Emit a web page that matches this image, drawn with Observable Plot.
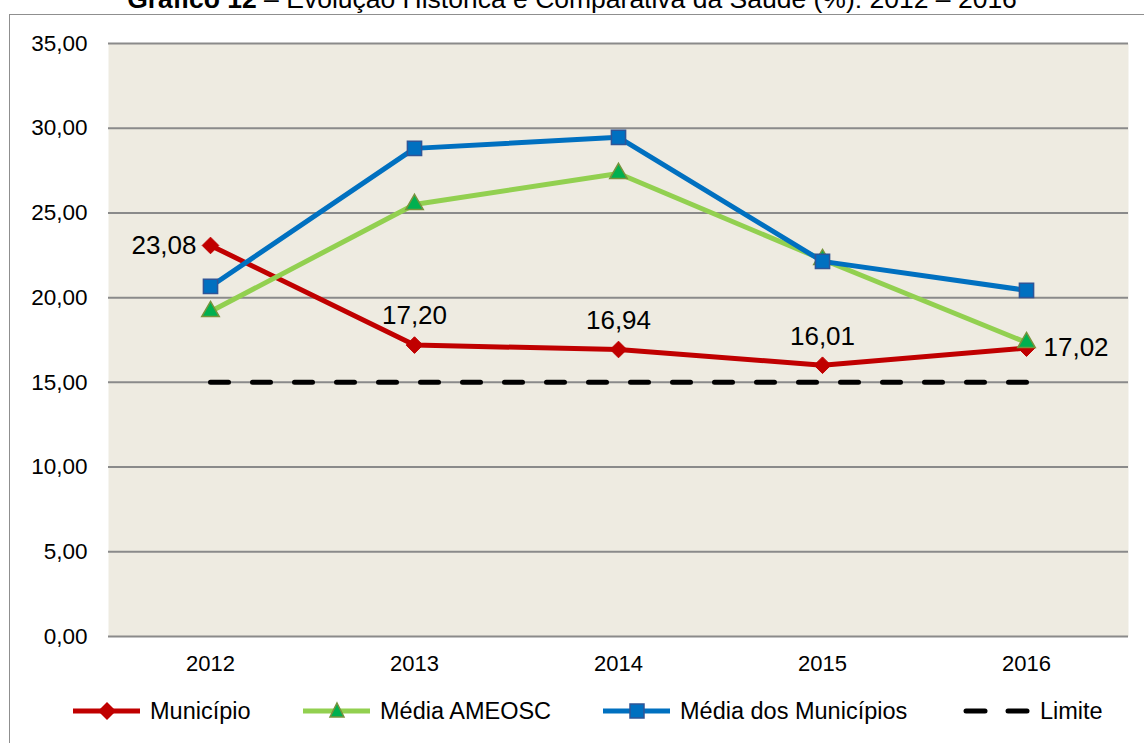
<!DOCTYPE html>
<html><head><meta charset="utf-8">
<script src="https://cdn.jsdelivr.net/npm/d3@7"></script>
<script src="https://cdn.jsdelivr.net/npm/@observablehq/plot@0.6"></script>
<style>
html,body{margin:0;padding:0;background:#fff;}
#wrap{position:relative;width:1144px;height:743px;overflow:hidden;font-family:"Liberation Sans",Arial,sans-serif;color:#000;}
#frame{position:absolute;left:9px;top:14px;width:1200px;height:800px;border-left:1.5px solid #8f8f8f;border-top:1.5px solid #8f8f8f;}
#title{position:absolute;left:0;width:1144px;top:-14px;text-align:center;font-size:26.5px;line-height:26px;white-space:nowrap;}
#chart{position:absolute;left:0;top:0;}
.leg{position:absolute;top:697px;height:28px;display:flex;align-items:center;font-size:23.5px;white-space:nowrap;}
.leg svg{margin-right:10px;}
</style></head><body>
<div id="wrap">
  <div id="frame"></div>
  <div id="title"><b>Gráfico 12</b> – Evolução Histórica e Comparativa da Saúde (%): 2012 – 2016</div>
  <div id="chart"></div>
  <div id="legend"></div>
</div>
<script>
const years = ["2012", "2013", "2014", "2015", "2016"];
const municipio = [23.08, 17.20, 16.94, 16.01, 17.02];
const mediaAmeosc = [19.18, 25.50, 27.33, 22.25, 17.35];
const mediaMunicipios = [20.66, 28.81, 29.46, 22.14, 20.43];
const limite = [15, 15, 15, 15, 15];
const yTicks = [0, 5, 10, 15, 20, 25, 30, 35];
const seriesNames = ["Município", "Média AMEOSC", "Média dos Municípios", "Limite"];
const colors = {red: "#C00000", green: "#92D050", blue: "#0070C0"};

const fmt = v => v.toFixed(2).replace(".", ",");
const rows = arr => years.map((y, i) => ({year: y, v: arr[i], i}));
const mun = rows(municipio), ame = rows(mediaAmeosc), med = rows(mediaMunicipios), lim = rows(limite);

const plot = Plot.plot({
  width: 1144, height: 680,
  marginLeft: 108, marginRight: 16, marginTop: 43, marginBottom: 44,
  x: {type: "point", domain: years, padding: 0.5, label: null},
  y: {domain: [0, 35], label: null},
  style: {fontFamily: "'Liberation Sans', Arial, sans-serif", color: "#000", background: "transparent", overflow: "visible"},
  marks: [
    Plot.frame({fill: "#EEEBE1", stroke: "none"}),
    Plot.gridY(yTicks, {stroke: "#8a8a8a", strokeOpacity: 1, strokeWidth: 2}),
    Plot.axisY({ticks: yTicks, tickSize: 0, tickPadding: 21, tickFormat: fmt, fontSize: 22.5, label: null}),
    Plot.axisX({tickSize: 0, tickPadding: 19, fontSize: 22, label: null}),
    Plot.line(lim, {x: "year", y: "v", stroke: "#000", strokeWidth: 5, strokeDasharray: "18,24", strokeLinecap: "round"}),
    Plot.line(mun, {x: "year", y: "v", stroke: colors.red, strokeWidth: 5}),
    Plot.dot(mun, {x: "year", y: "v", symbol: "diamond2", r: 7.5, fill: colors.red, stroke: colors.red, strokeWidth: 1}),
    Plot.line(ame, {x: "year", y: "v", stroke: colors.green, strokeWidth: 5}),
    Plot.dot(ame, {x: "year", y: "v", symbol: "triangle", r: 6.5, fill: "#00B050", stroke: "#77933C", strokeWidth: 1.5}),
    Plot.line(med, {x: "year", y: "v", stroke: colors.blue, strokeWidth: 5}),
    Plot.dot(med, {x: "year", y: "v", symbol: "square", r: 8, fill: colors.blue, stroke: "#2F5597", strokeWidth: 1.5}),
    Plot.text(mun.filter(d => d.i === 0), {x: "year", y: "v", text: d => fmt(d.v), textAnchor: "end", dx: -14, fontSize: 26, fill: "#000"}),
    Plot.text(mun.filter(d => d.i > 0 && d.i < years.length - 1), {x: "year", y: "v", text: d => fmt(d.v), dy: -29, fontSize: 26, fill: "#000"}),
    Plot.text(mun.filter(d => d.i === years.length - 1), {x: "year", y: "v", text: d => fmt(d.v), textAnchor: "start", dx: 17, fontSize: 26, fill: "#000"})
  ]
});
document.getElementById("chart").appendChild(plot);

// legend
const swatches = [
  `<line x1="0" x2="67" y1="14" y2="14" stroke="${colors.red}" stroke-width="5"/><polygon points="34,5 43,14 34,23 25,14" fill="${colors.red}"/>`,
  `<line x1="0" x2="67" y1="14" y2="14" stroke="${colors.green}" stroke-width="5"/><polygon points="34,6 41,20 27,20" fill="#00B050" stroke="#77933C" stroke-width="1.5"/>`,
  `<line x1="0" x2="67" y1="14" y2="14" stroke="${colors.blue}" stroke-width="5"/><rect x="27" y="7" width="14" height="14" fill="${colors.blue}" stroke="#2F5597" stroke-width="1.5"/>`,
  `<line x1="3" x2="22" y1="14" y2="14" stroke="#000" stroke-width="5" stroke-linecap="round"/><line x1="45" x2="64" y1="14" y2="14" stroke="#000" stroke-width="5" stroke-linecap="round"/>`
];
const legLefts = [73, 303, 603, 963];
const legend = document.getElementById("legend");
seriesNames.forEach((name, k) => {
  const d = document.createElement("div");
  d.className = "leg";
  d.style.left = legLefts[k] + "px";
  d.innerHTML = `<svg width="67" height="28">${swatches[k]}</svg><span>${name}</span>`;
  legend.appendChild(d);
});
</script>
</body></html>
